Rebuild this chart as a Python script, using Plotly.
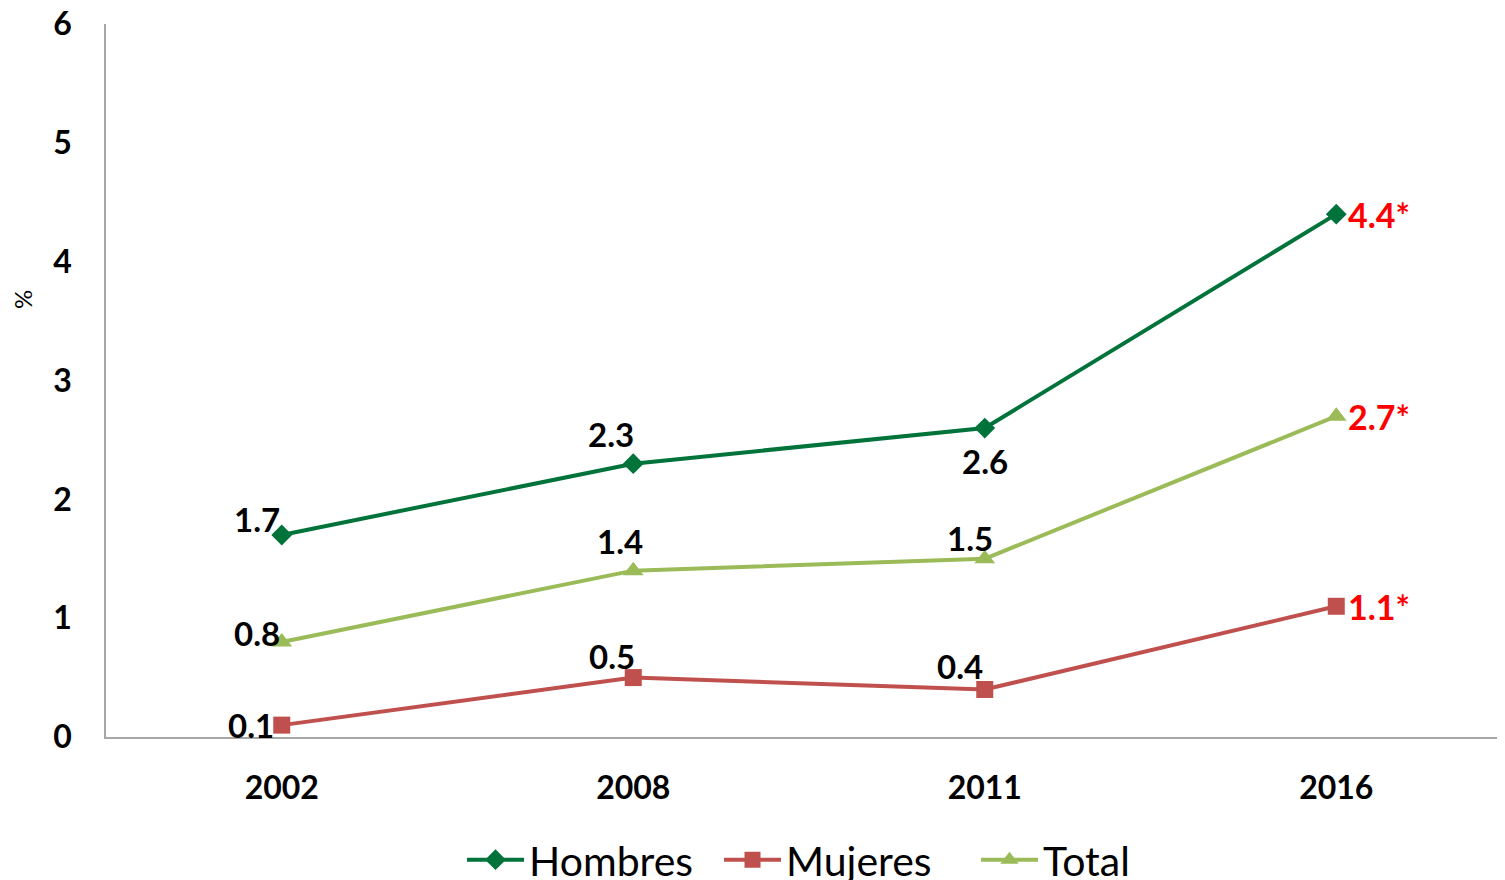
import plotly.graph_objects as go

years = ["2002", "2008", "2011", "2016"]
hombres = [1.7, 2.3, 2.6, 4.4]
mujeres = [0.1, 0.5, 0.4, 1.1]
total = [0.8, 1.4, 1.5, 2.7]
sig = [False, False, False, True]  # marked with * in red

series = [
    ("Hombres", hombres, "#00733A", "diamond", 16,
     [(-25, 16), (-22, 30), (0, -33), None]),
    ("Mujeres", mujeres, "#C0504D", "square", 17,
     [(-31, 0), (-21, 22), (-25, 23), None]),
    ("Total", total, "#9BBB59", "triangle-up", 18,
     [(-25, 9), (-13, 30), (-15, 21), None]),
]

W, H = 1497, 872
L, R, T, B = 98, 0, 16, 143
PW, PH = W - L - R, H - T - B

fig = go.Figure()
annotations = []
for name, vals, color, sym, msize, offs in series:
    fig.add_trace(go.Scatter(
        x=list(range(len(years))), y=vals, name=name, mode="lines+markers",
        line=dict(color=color, width=4),
        marker=dict(symbol=sym, size=msize, color=color),
    ))
    for i, v in enumerate(vals):
        if sig[i]:
            annotations.append(dict(
                x=i, y=v, xref="x", yref="y", text=f"{v:.1f}*", showarrow=False,
                xanchor="left", yanchor="middle", xshift=10,
                font=dict(family="Lato", size=34, color="#FF0000", weight="bold")))
        else:
            dx, dy = offs[i]
            annotations.append(dict(
                x=i, y=v, xref="x", yref="y", text=f"{v:.1f}", showarrow=False,
                xanchor="center", yanchor="middle", xshift=dx, yshift=dy,
                font=dict(family="Lato", size=33, color="#000000", weight="bold")))

annotations.append(dict(
    x=0, y=(H - B - 292) / PH, xref="paper", yref="paper",
    text="%", showarrow=False, textangle=-90, xanchor="center",
    xshift=-84,
    font=dict(family="Lato", size=24, color="#000000")))

fig.update_layout(
    width=W, height=H,
    margin=dict(l=L, r=R, t=T, b=B, autoexpand=False),
    paper_bgcolor="white", plot_bgcolor="white",
    font=dict(family="Lato", color="#000000"),
    showlegend=True,
    legend=dict(orientation="h", x=(462 - 8 - L) / PW, xanchor="left",
                y=-0.1725, yanchor="middle",
                font=dict(family="Lato", size=41, color="#000000"),
                itemwidth=57, entrywidth=185, tracegroupgap=0),
    annotations=annotations,
)
fig.update_xaxes(
    tickmode="array", tickvals=list(range(len(years))), ticktext=years,
    range=[-0.5, 3.48], showgrid=False, zeroline=False,
    showline=True, linecolor="#A6A6A6", linewidth=1.5,
    ticks="", ticklabelstandoff=22,
    tickfont=dict(family="Lato", size=32, color="#000000", weight="bold"),
)
fig.update_yaxes(
    range=[0, 6], dtick=1, showgrid=False, zeroline=False,
    showline=True, linecolor="#A6A6A6", linewidth=1.5,
    ticks="", ticklabelstandoff=26, ticklabeloverflow="allow",
    tickfont=dict(family="Lato", size=32, color="#000000", weight="bold"),
)

fig.write_html("out.html")
